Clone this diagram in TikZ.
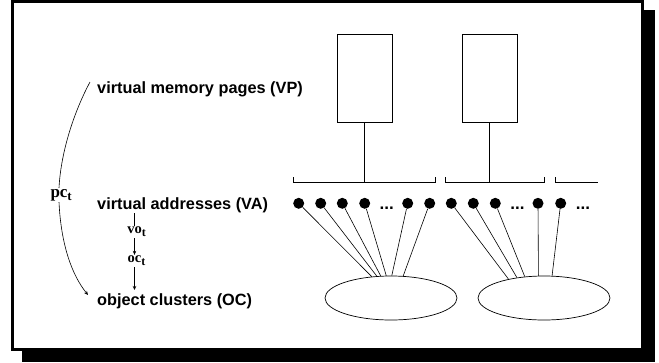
\documentclass[tikz,border=0pt]{standalone}
\usepackage{fontspec}
\newfontfamily\hvfont{Liberation Sans}
\newfontfamily\tmfont{Liberation Serif}
\usetikzlibrary{shapes.geometric,arrows.meta}
\newcommand\mysubt[1]{\rlap{\raisebox{-0.45ex}{\fontsize{#1}{#1}\selectfont t}}}
\begin{document}
\begin{tikzpicture}[x=1pt,y=-1pt,
  lab/.style={font=\hvfont\bfseries\fontsize{16.3}{18}\selectfont, inner sep=0, anchor=base west},
  mth/.style={font=\tmfont\bfseries\fontsize{14.5}{14.5}\selectfont, inner sep=1pt},
  conn/.style={line width=0.6pt},
  arr/.style={conn, -{Stealth[length=4pt,width=3.5pt]}},
  dot/.style={circle, fill=black, inner sep=0, minimum size=11pt},
  page/.style={draw, line width=0.7pt, minimum width=55pt, minimum height=88pt, inner sep=0},
  clus/.style={ellipse, draw, line width=0.7pt, minimum width=132pt, minimum height=44pt, inner sep=0},
  ell/.style={font=\hvfont\bfseries\fontsize{17}{18}\selectfont, inner sep=0, anchor=base}
]
\useasboundingbox (0,0) rectangle (659,362);
\fill (22,10) rectangle (655,362);
\filldraw[fill=white, line width=3pt] (12.5,1.5) rectangle (642.8,349);

% labels
\node[lab] (vp) at (97,93.5) {virtual memory pages (VP)};
\node[lab] (va) at (97,209.5) {virtual addresses (VA)};
\node[lab] (oc) at (97,305) {object clusters (OC)};
\node[mth, font=\tmfont\bfseries\fontsize{17}{17}\selectfont] (pc) at (59,195) {pc\mysubt{13}};
\node[mth] (vo) at (134.5,232) {vo\mysubt{12}};
\node[mth] (oct) at (134.5,261) {oc\mysubt{12}};

\draw[conn] (va.south -| vo.north) -- (vo.north);
\draw[arr] (vo.south) -- (oct.north);
\draw[arr, shorten >=3pt] (oct.south) -- (oct.south |- oc.north);

\coordinate (pcs) at (90,82);
\coordinate (pce) at (88,295);
\draw[conn] (pcs) .. controls (75,110) and (61,150) .. (pc.north);
\draw[arr] (pc.south) .. controls (61,245) and (72,275) .. (pce);

% pages
\node[page] (p1) at (364.5,78) {};
\node[page] (p2) at (489.5,78) {};
\coordinate (b1l) at (293.3,182);
\coordinate (b1r) at (435,182);
\coordinate (b2l) at (445.7,182);
\coordinate (b2r) at (544.3,182);
\coordinate (b3l) at (555.3,182);
\coordinate (b3r) at (598.3,182);
\draw[conn] (p1.south) -- (p1.south |- b1l);
\draw[conn] (p2.south) -- (p2.south |- b2l);
\draw[conn] ([yshift=5pt]b1l) -- (b1l) -- (b1r) -- ([yshift=5pt]b1r);
\draw[conn] ([yshift=5pt]b2l) -- (b2l) -- (b2r) -- ([yshift=5pt]b2r);
\draw[conn] ([yshift=5pt]b3l) -- (b3l) -- (b3r);

% dots
\foreach \n/\x in {1/298.7,2/320.7,3/342.3,4/364.7,5/407.7,6/429.7,7/451.3,8/473.3,9/495.3,10/538,11/560.7}
  \node[dot] (d\n) at (\x,203.3) {};
\node[ell] (m1) at (386.7,209.5) {...};
\node[ell] (m2) at (517.5,209.5) {...};
\node[ell] (m3) at (583,209.5) {...};

% clusters
\node[clus] (e1) at (391,298) {};
\node[clus] (e2) at (544,298) {};

\draw[conn] (d1) -- (e1.132.6);
\draw[conn] (d2) -- (e1.123.6);
\draw[conn] (d3) -- (e1.115.4);
\draw[conn] (d4) -- (e1.102.9);
\draw[conn] (d5) -- (e1.88.2);
\draw[conn] (d6) -- (e1.61.6);
\draw[conn] (d7) -- (e2.152.6);
\draw[conn] (d8) -- (e2.143.8);
\draw[conn] (d9) -- (e2.132);
\draw[conn] (d10) -- (e2.104.6);
\draw[conn] (d11) -- (e2.70.6);
\end{tikzpicture}
\end{document}
